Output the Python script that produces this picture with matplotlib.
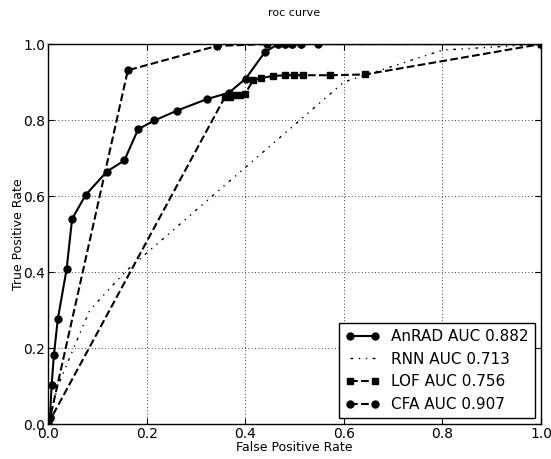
import matplotlib
matplotlib.use('Agg')
import matplotlib.pyplot as plt

# AnRAD roc points
anrad_fpr = [0.0, 0.004, 0.0075, 0.012, 0.020, 0.038, 0.049, 0.0765, 0.119, 0.155, 0.183, 0.216,
             0.262, 0.322, 0.367, 0.401, 0.44, 0.467, 0.481, 0.494, 0.513, 0.548, 1.0]
anrad_tpr = [0.0, 0.016, 0.103, 0.181, 0.276, 0.409, 0.540, 0.603, 0.664, 0.694, 0.776, 0.799,
             0.825, 0.855, 0.872, 0.909, 0.979, 1.0, 1.0, 1.0, 1.0, 1.0, 1.0]

# RNN
rnn_fpr = [0.0, 0.02, 0.048, 0.085, 0.156, 0.2, 0.6, 0.8, 1.0]
rnn_tpr = [0.0, 0.1, 0.187, 0.3, 0.4, 0.45, 0.9, 0.984, 1.0]

# LOF
lof_fpr = [0.0, 0.359, 0.37, 0.38, 0.39, 0.40, 0.416, 0.433, 0.457, 0.481, 0.498, 0.518, 0.572, 0.643, 1.0]
lof_tpr = [0.0, 0.861, 0.862, 0.865, 0.866, 0.869, 0.905, 0.911, 0.916, 0.918, 0.918, 0.918, 0.918, 0.92, 1.0]

# CFA
cfa_fpr = [0.0, 0.005, 0.162, 0.342, 0.444, 0.467, 0.481, 0.494, 0.513, 1.0]
cfa_tpr = [0.0, 0.02, 0.931, 0.995, 1.0, 1.0, 1.0, 1.0, 1.0, 1.0]

labels = ['AnRAD AUC 0.882', 'RNN AUC 0.713', 'LOF AUC 0.756', 'CFA AUC 0.907']

fig = plt.figure(figsize=(5.51, 4.59), dpi=100)
ax = fig.add_axes([0.087, 0.076, 0.895, 0.828])

ax.plot(anrad_fpr, anrad_tpr, 'k-', marker='o', markersize=5, lw=1.5, label=labels[0])
ax.plot(rnn_fpr, rnn_tpr, color='k', lw=1, dashes=(2, 4, 1, 4, 1, 4), label=labels[1])
ax.plot(lof_fpr, lof_tpr, color='k', ls='--', marker='s', markersize=5, lw=1.5, label=labels[2])
ax.plot(cfa_fpr, cfa_tpr, color='k', ls='--', marker='o', markersize=5, lw=1.5, label=labels[3])

ax.set_xlim(0, 1)
ax.set_ylim(0, 1)
ax.set_xticks([0, 0.2, 0.4, 0.6, 0.8, 1.0])
ax.set_yticks([0, 0.2, 0.4, 0.6, 0.8, 1.0])
ax.tick_params(direction='in', top=True, right=True, labelsize=10, length=4, pad=2)
ax.grid(True, color='k', lw=0.6, dashes=(1, 3))
for s in ax.spines.values():
    s.set_linewidth(1.0)

ax.set_xlabel('False Positive Rate', fontsize=9, labelpad=0)
ax.set_ylabel('True Positive Rate', fontsize=9, labelpad=-1)
ax.set_title('roc curve', fontsize=8, pad=20)

leg = ax.legend(loc='lower right', fontsize=11, fancybox=False, framealpha=1, numpoints=2,
                edgecolor='k', handlelength=2.2, borderaxespad=0.4)
leg.get_frame().set_linewidth(1.0)

fig.savefig('out.png', dpi=100)
